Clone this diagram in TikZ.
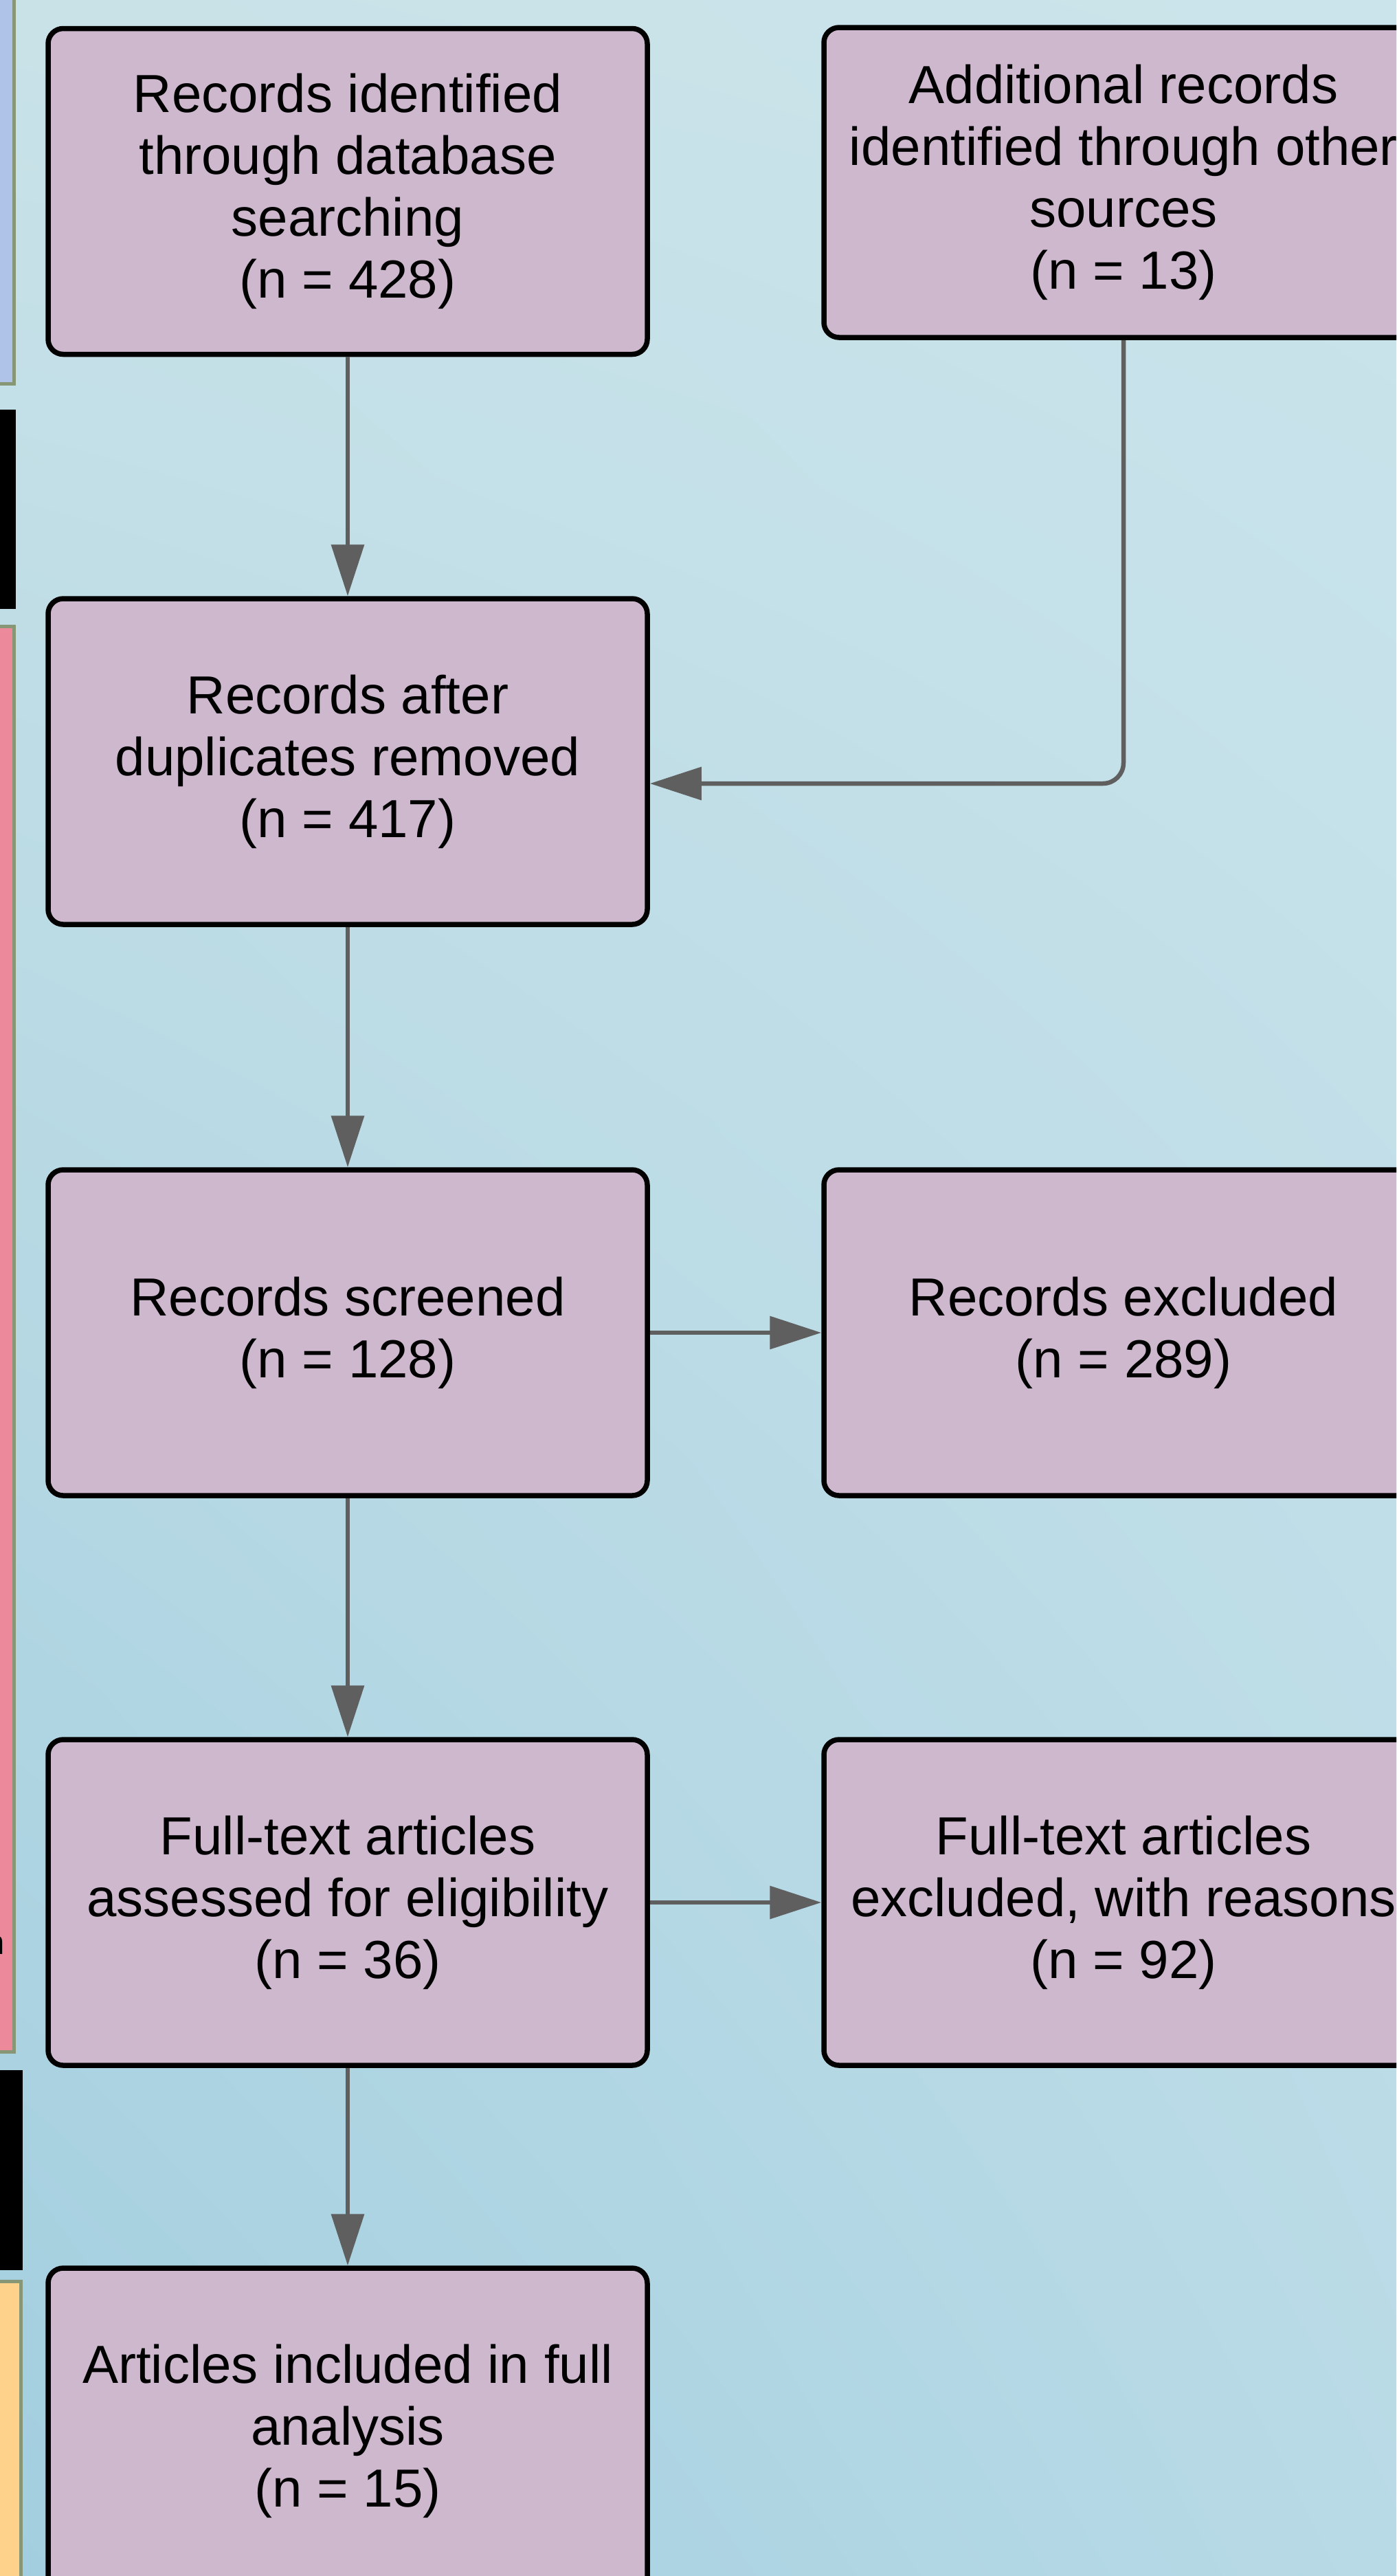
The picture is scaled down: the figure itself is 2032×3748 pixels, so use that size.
\documentclass[tikz,border=0pt]{standalone}
\usepackage{fontspec}
\setmainfont{Liberation Sans}
\usepackage{tikz}
\usetikzlibrary{arrows.meta,shadings}
\definecolor{bgul}{HTML}{C9E2E8}
\definecolor{bgur}{HTML}{CBE4EB}
\definecolor{bgll}{HTML}{A2CEDF}
\definecolor{bglr}{HTML}{B8DAE6}
\definecolor{boxfill}{HTML}{CEB8CE}
\definecolor{linegray}{HTML}{5F5F5F}
\definecolor{stripblue}{HTML}{AEC3E7}
\definecolor{strippink}{HTML}{EC8A9C}
\definecolor{striporange}{HTML}{FFD28B}
\definecolor{stripedge}{HTML}{879776}

\begin{document}
\begin{tikzpicture}[x=0.1mm,y=-0.1mm,
  font=\fontsize{22.2pt}{25.6pt}\selectfont,
  flowbox/.style={draw=black,fill=boxfill,line width=0.75mm,rounded corners=2.2mm,
    minimum width=87.2mm,minimum height=47.4mm,align=center,inner sep=0pt},
  flow/.style={draw=linegray,line width=0.65mm,-{Triangle[length=7.5mm,width=4.7mm]}}]
  \useasboundingbox (0,0) rectangle (2032,3748);
  \clip (0,0) rectangle (2032,3748);
  % background
  \shade[upper left=bgul,upper right=bgur,lower left=bgll,lower right=bglr] (0,0) rectangle (2032,3748);
  % stage strips on the left edge
  \filldraw[fill=stripblue,draw=stripedge,line width=0.5mm] (-30,-30) rectangle (20.5,558.5);
  \fill[black] (0,596) rectangle (23,886);
  \filldraw[fill=strippink,draw=stripedge,line width=0.5mm] (-30,911.5) rectangle (20.5,2985.5);
  \node[anchor=east,inner sep=0pt,font=\fontsize{14pt}{16pt}\selectfont] (cut) at (8,2830) {n};
  \fill[black] (0,3012) rectangle (33,3303);
  \filldraw[fill=striporange,draw=stripedge,line width=0.5mm] (-30,3319.5) rectangle (30.5,3800);
  % boxes
  \node[flowbox] (ident) at (506,278.5) {Records identified\\through database\\searching\\(n = 428)};
  \node[flowbox,minimum height=45.1mm] (other) at (1635,265.5) {Additional records\\identified through other\\sources\\(n = 13)};
  \node[flowbox] (dedup) at (506,1108) {Records after\\duplicates removed\\(n = 417)};
  \node[flowbox] (screen) at (506,1939) {Records screened\\(n = 128)};
  \node[flowbox] (excl) at (1635,1939) {Records excluded\\(n = 289)};
  \node[flowbox] (full) at (506,2768) {Full-text articles\\assessed for eligibility\\(n = 36)};
  \node[flowbox] (fullex) at (1635,2768) {Full-text articles\\excluded, with reasons\\(n = 92)};
  \node[flowbox] (incl) at (506,3537) {Articles included in full\\analysis\\(n = 15)};
  % connectors
  \draw[flow] (ident) -- (dedup);
  \draw[flow,rounded corners=3mm] (other) |- ([yshift=-3.2mm]dedup.east);
  \draw[flow] (dedup) -- (screen);
  \draw[flow] (screen) -- (excl);
  \draw[flow] (screen) -- (full);
  \draw[flow] (full) -- (fullex);
  \draw[flow] (full) -- (incl);
\end{tikzpicture}
\end{document}
